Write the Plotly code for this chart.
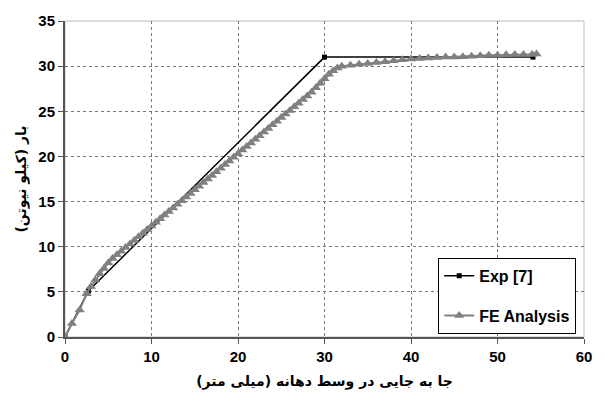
import plotly.graph_objects as go

exp_x = [0, 2.7, 30, 54.1]
exp_y = [0, 5.1, 31, 31]

fe_x = [0, 0.8, 1.7, 2.5, 3.0, 3.5, 4.0, 4.5, 5.0, 5.5, 6.0, 6.5, 7.0, 7.5, 8.0, 8.5, 9.0, 9.5,
        10, 10.5, 11, 11.5, 12, 12.5, 13, 13.5, 14, 14.5, 15, 15.5, 16, 16.5, 17, 17.5, 18, 18.5,
        19, 19.5, 20, 20.5, 21, 21.5, 22, 22.5, 23, 23.5, 24, 24.5, 25, 25.5, 26, 26.5, 27, 27.5,
        28, 28.5, 29, 29.5, 30, 30.5, 31, 31.5, 32, 33, 34, 35, 36, 37, 38, 39, 40, 41, 42, 43,
        44, 45, 46, 47, 48, 49, 50, 51, 52, 53, 54, 54.5]
fe_y = [0, 1.5, 3.0, 4.8, 5.6, 6.3, 7.0, 7.6, 8.2, 8.7, 9.1, 9.5, 9.9, 10.3, 10.7, 11.1, 11.5, 11.9,
        12.3, 12.7, 13.1, 13.5, 13.9, 14.3, 14.7, 15.1, 15.5, 15.9, 16.3, 16.7, 17.1, 17.5, 17.9, 18.3, 18.7, 19.1,
        19.5, 19.9, 20.3, 20.7, 21.1, 21.5, 21.9, 22.3, 22.7, 23.1, 23.5, 23.9, 24.3, 24.7, 25.1, 25.5, 25.9, 26.3,
        26.7, 27.1, 27.6, 28.1, 28.6, 29.1, 29.5, 29.8, 30.0, 30.1, 30.2, 30.3, 30.4, 30.5, 30.6, 30.7, 30.8, 30.85, 30.9, 30.95,
        31.0, 31.0, 31.05, 31.1, 31.15, 31.2, 31.2, 31.25, 31.3, 31.3, 31.3, 31.35]

x_ticks = [0, 10, 20, 30, 40, 50, 60]
y_ticks = [0, 5, 10, 15, 20, 25, 30, 35]

fig = go.Figure()
fig.add_trace(go.Scatter(
    x=exp_x, y=exp_y, name="<b>Exp [7]</b>", mode="lines+markers", legendgroup="exp",
    line=dict(color="black", width=1.5),
    marker=dict(symbol="square", size=5, color="black"),
))
fig.add_trace(go.Scatter(
    x=fe_x, y=fe_y, name="<b>FE Analysis</b>", mode="lines+markers", legendgroup="fe",
    line=dict(color="#808080", width=2),
    marker=dict(symbol="triangle-up", size=9, color="#808080"),
))

tickfont = dict(family="Liberation Sans", size=15, color="black")
fig.update_layout(
    width=605, height=409,
    margin=dict(l=65, r=21, t=13, b=72),
    paper_bgcolor="white", plot_bgcolor="white",
    showlegend=True,
    legend=dict(
        x=0.985, y=0.01, xanchor="right", yanchor="bottom",
        bordercolor="black", borderwidth=1, bgcolor="white",
        font=dict(family="Liberation Sans", size=16, color="black"),
        tracegroupgap=16, traceorder="grouped", itemwidth=30,
    ),
    xaxis=dict(
        range=[0, 60], tickvals=x_ticks, ticktext=[f"<b>{v}</b>" for v in x_ticks],
        ticks="outside", ticklen=5, tickcolor="#555",
        showline=True, linecolor="#555", linewidth=2, mirror=False,
        showgrid=True, gridcolor="#777", griddash="dot", gridwidth=1,
        zeroline=False, tickfont=tickfont,
        title=dict(text="<b>جا به جایی در وسط دهانه (میلی متر)</b>",
                   font=dict(family="DejaVu Sans", size=14, color="black"), standoff=12),
    ),
    yaxis=dict(
        range=[0, 35], tickvals=y_ticks, ticktext=[f"<b>{v}</b>" for v in y_ticks],
        ticks="outside", ticklen=5, tickcolor="#555",
        showline=True, linecolor="#555", linewidth=2,
        showgrid=True, gridcolor="#777", griddash="dot", gridwidth=1,
        zeroline=False, tickfont=tickfont,
        title=dict(text="<b>بار (کیلو نیوتن)</b>",
                   font=dict(family="DejaVu Sans", size=14, color="black"), standoff=8),
    ),
    shapes=[dict(type="rect", xref="paper", yref="paper", x0=0, y0=0, x1=1, y1=1,
                 line=dict(color="#bbb", width=1), layer="below")],
)
fig.write_html("out.html")
